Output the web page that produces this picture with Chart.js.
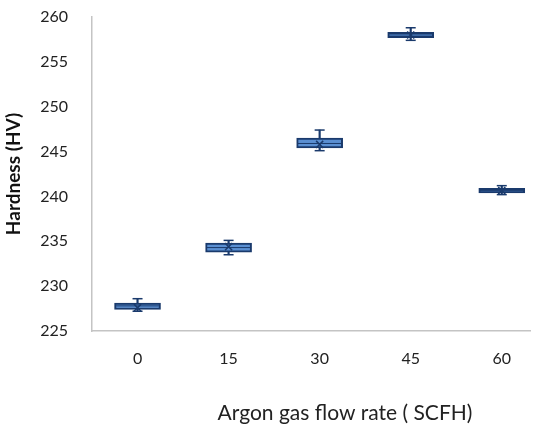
<!DOCTYPE html>
<html>
<head>
  <meta charset="utf-8" />
  <title>Hardness vs Argon gas flow rate</title>
  <script src="https://cdn.jsdelivr.net/npm/chart.js"></script>
  <style>
    body { background: white; margin: 0; }
    canvas { display: block; }
  </style>
</head>
<body>
  <canvas id="boxChart" width="536" height="433"></canvas>

  <script>
    // flow rates (SCFH) and hardness statistics per group
    const flowRates = ['0', '15', '30', '45', '60'];
    const minVals   = [227.2, 233.5, 245.1, 257.4, 240.2];
    const q1Vals    = [227.4, 233.8, 245.4, 257.7, 240.4];
    const medians   = [227.8, 234.3, 245.9, 258.0, 240.65];
    const q3Vals    = [228.1, 234.8, 246.5, 258.3, 240.9];
    const maxVals   = [228.6, 235.1, 247.4, 258.8, 241.2];
    const means     = [227.6, 234.4, 245.8, 258.0, 240.65];
    const yTicks    = [225, 230, 235, 240, 245, 250, 255, 260];
    const xTitle    = 'Argon gas flow rate ( SCFH)';

    const dark = '#1a3a6c';
    const pts = arr => arr.map((v, i) => ({ x: i, y: v }));

    // x axis title sits a bit right of centre in the original
    const xTitlePlugin = {
      id: 'xTitle',
      afterDraw(chart) {
        const { ctx, chartArea } = chart;
        ctx.save();
        ctx.font = '21px Lato';
        ctx.fillStyle = '#222';
        ctx.textAlign = 'center';
        ctx.textBaseline = 'middle';
        ctx.fillText(xTitle, (chartArea.left + chartArea.right) / 2 + 34, 413);
        ctx.restore();
      }
    };

    const ctx = document.getElementById('boxChart').getContext('2d');
    new Chart(ctx, {
      type: 'bar',
      data: {
        datasets: [
          {
            label: 'mean',
            type: 'line',
            data: pts(means),
            showLine: false,
            pointStyle: 'crossRot',
            pointRadius: 5,
            borderColor: dark,
            borderWidth: 1.5,
            order: 0
          },
          {
            label: 'median',
            type: 'line',
            data: pts(medians),
            showLine: false,
            pointStyle: 'line',
            pointRadius: 22,
            borderColor: dark,
            borderWidth: 1,
            order: 1
          },
          {
            label: 'box',
            data: q1Vals.map((v, i) => ({ x: i, y: [v, q3Vals[i]] })),
            backgroundColor: '#5a8fd2',
            borderColor: dark,
            borderWidth: 2,
            borderSkipped: false,
            barThickness: 46,
            grouped: false,
            order: 2
          },
          {
            label: 'caps',
            type: 'line',
            data: pts(maxVals).concat(pts(minVals)),
            showLine: false,
            pointStyle: 'line',
            pointRadius: 5,
            borderColor: dark,
            borderWidth: 1.5,
            order: 3
          },
          {
            label: 'whisker',
            data: minVals.map((v, i) => ({ x: i, y: [v, maxVals[i]] })),
            backgroundColor: dark,
            borderWidth: 0,
            barThickness: 1.5,
            grouped: false,
            order: 4
          }
        ]
      },
      options: {
        responsive: false,
        animation: false,
        layout: { autoPadding: false, padding: { top: 0, right: 6, left: 0, bottom: 0 } },
        plugins: {
          legend: { display: false },
          tooltip: { enabled: false }
        },
        scales: {
          x: {
            type: 'linear',
            offset: false,
            min: -0.5,
            max: 4.31,
            grid: { display: false },
            border: { display: true, color: '#c4c4c4', width: 1.5 },
            afterBuildTicks: s => { s.ticks = flowRates.map((_, i) => ({ value: i })); },
            afterFit: s => { s.height = 102; s.paddingLeft = 0; s.paddingRight = 0; },
            ticks: {
              padding: 10,
              color: '#222',
              font: { family: 'Lato', size: 16 },
              callback: v => flowRates[v]
            },
            title: { display: false }
          },
          y: {
            min: 225,
            max: 260,
            grid: { display: false },
            border: { display: true, color: '#c4c4c4', width: 1.5 },
            afterBuildTicks: s => { s.ticks = yTicks.map(v => ({ value: v })); },
            afterFit: s => { s.width = 92; s.paddingTop = 17; s.paddingBottom = 0; },
            ticks: {
              padding: 16,
              color: '#222',
              font: { family: 'Lato', size: 16 }
            },
            title: {
              display: true,
              text: 'Hardness (HV)',
              color: '#111',
              font: { family: 'Lato', size: 19, weight: 'bold' },
              padding: { top: 2, bottom: 0 }
            }
          }
        }
      },
      plugins: [xTitlePlugin]
    });
  </script>
</body>
</html>
